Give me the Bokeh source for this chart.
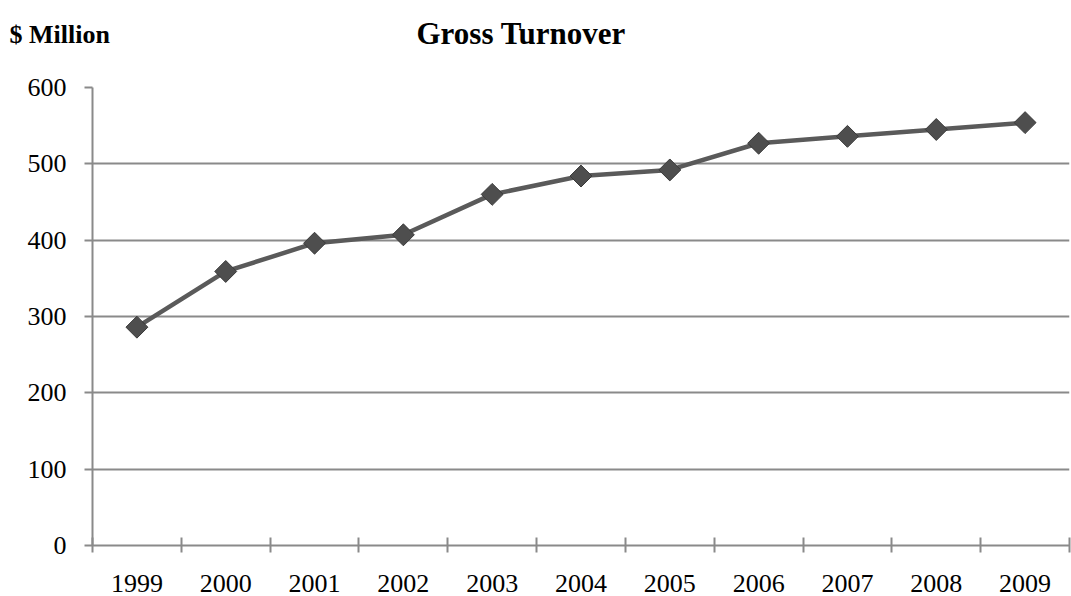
import numpy as np
from bokeh.plotting import figure
from bokeh.layouts import column
from bokeh.models import Range1d, FixedTicker, ColumnDataSource
from bokeh.core.properties import value
from bokeh.embed import file_html
from bokeh.resources import INLINE

years = ["1999", "2000", "2001", "2002", "2003", "2004", "2005", "2006", "2007", "2008", "2009"]
turnover = [286, 359, 396, 407, 460, 484, 492, 527, 536, 545, 554]
y_ticks = [0, 100, 200, 300, 400, 500, 600]
title_text = "Gross Turnover"
unit_text = "$ Million"

n = len(years)
xs = np.arange(n) + 0.5
src = ColumnDataSource(dict(x=xs, y=turnover, year=years))

GRID = "#8a8a8a"
FONT = "Liberation Serif"
W = 1071
HEAD_H = 60

# ---- header strip with the two titles ----
head = figure(width=W, height=HEAD_H, output_backend="svg", toolbar_location=None,
              x_range=Range1d(0, W), y_range=Range1d(0, HEAD_H),
              min_border=0, x_axis_type=None, y_axis_type=None)
head.frame_align = False
head.outline_line_color = None
head.grid.visible = False
head.text(x=[9], y=[26], text=[unit_text], text_font=value(FONT), text_font_style="bold",
          text_font_size="26px", text_align="left", text_baseline="alphabetic", text_color="black")
head.text(x=[416], y=[27], text=[title_text], text_font=value(FONT), text_font_style="bold",
          text_font_size="31px", text_align="left", text_baseline="alphabetic", text_color="black")

# ---- main chart ----
p = figure(width=W, height=596 - HEAD_H, output_backend="svg", toolbar_location=None,
           x_range=Range1d(0, n), y_range=Range1d(0, 600),
           min_border_left=92, min_border_right=2, min_border_top=87 - HEAD_H, min_border_bottom=51)
p.frame_align = False
p.outline_line_color = None
p.background_fill_color = "white"
p.border_fill_color = "white"

xa = p.xaxis[0]
xa.ticker = FixedTicker(ticks=list(xs), minor_ticks=list(range(n + 1)))
xa.major_label_overrides = {float(x): yr for x, yr in zip(xs, years)}
xa.major_tick_line_color = None
xa.major_tick_in = 0
xa.major_tick_out = 0
xa.minor_tick_line_color = GRID
xa.minor_tick_line_width = 2
xa.minor_tick_in = 8
xa.minor_tick_out = 7
xa.axis_line_color = GRID
xa.axis_line_width = 2
xa.major_label_text_font = FONT
xa.major_label_text_font_size = "26px"
xa.major_label_text_color = "black"
xa.major_label_standoff = 22

ya = p.yaxis[0]
ya.ticker = FixedTicker(ticks=y_ticks)
ya.minor_tick_line_color = None
ya.major_tick_in = 0
ya.major_tick_out = 8
ya.major_tick_line_color = GRID
ya.major_tick_line_width = 2
ya.axis_line_color = GRID
ya.axis_line_width = 2
ya.major_label_text_font = FONT
ya.major_label_text_font_size = "26px"
ya.major_label_text_color = "black"
ya.major_label_standoff = 18

p.xgrid.grid_line_color = None
p.ygrid.ticker = FixedTicker(ticks=y_ticks)
p.ygrid.grid_line_color = GRID
p.ygrid.grid_line_width = 2

p.line("x", "y", source=src, line_color="#5a5a5a", line_width=4.5)
p.scatter("x", "y", source=src, marker="square", angle=np.pi / 4, size=15.5,
          fill_color="#4e4e4e", line_color="#3a3a3a", line_width=1)

layout = column(head, p, spacing=0)
open("out.html", "w").write(file_html(layout, INLINE))
